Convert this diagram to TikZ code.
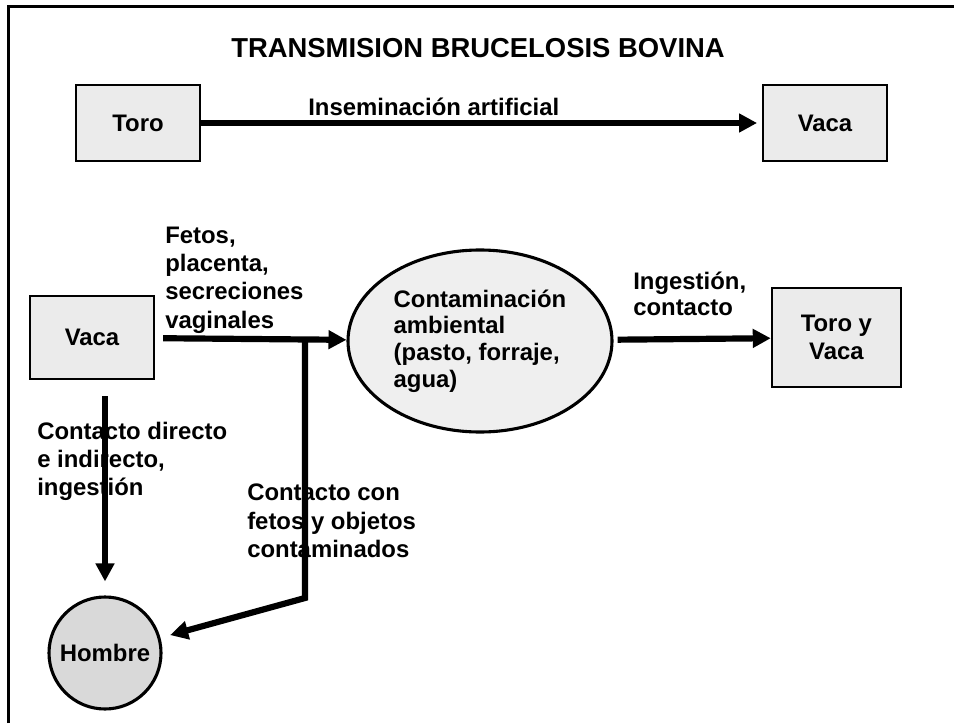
\documentclass[tikz,border=0pt]{standalone}
\usepackage{fontspec}
\setmainfont{Liberation Sans}
\usetikzlibrary{arrows.meta, shapes.geometric}
\definecolor{cajagris}{HTML}{EBEBEB}
\definecolor{nubegris}{HTML}{EFEFEF}
\definecolor{hombregris}{HTML}{D9D9D9}

\begin{document}
\begin{tikzpicture}[
        texto/.style={font=\bfseries\fontsize{17}{20}\selectfont},
        caja/.style={texto, draw, line width=1.6pt, fill=cajagris, minimum width=3.1cm, minimum height=1.9cm, align=center},
        etiqueta/.style={texto, inner sep=0pt, align=left, anchor=north west},
        flecha/.style={line width=4.4pt, -{Triangle[length=0.45cm, width=0.45cm]}}
    ]
            \useasboundingbox (0, 0) rectangle (23.85, -18.075);
            \draw[line width=2.1pt] (0.21, -18.075) -- (0.21, -0.16) -- (23.85, -0.16);
            \node[font=\bfseries\fontsize{19.5}{22}\selectfont] (titulo) at (11.95, -1.2) {TRANSMISION BRUCELOSIS BOVINA};

            \node[caja] (toro) at (3.45, -3.075) {Toro};
            \node[caja] (vacaA) at (20.625, -3.075) {Vaca};
            \node[caja, minimum height=2.075cm] (vaca) at (2.3, -8.44) {Vaca};
            \node[draw, ellipse, line width=2.2pt, fill=nubegris, minimum width=6.6cm, minimum height=4.55cm, inner sep=0pt, align=left, font=\bfseries\fontsize{17}{19}\selectfont] (amb) at (12, -8.525) {Contaminación\\ambiental\\(pasto, forraje,\\agua)};
            \node[caja, minimum width=3.225cm, minimum height=2.475cm] (tyv) at (20.91, -8.44) {Toro y\\Vaca};
            \node[texto, draw, circle, line width=2.2pt, fill=hombregris, minimum size=2.8cm, inner sep=0pt] (hombre) at (2.625, -16.325) {Hombre};

            \node[etiqueta] (insem) at (7.7, -2.45) {Inseminación artificial};
            \node[etiqueta] (fetos) at (4.125, -5.675) {Fetos,\\placenta,\\secreciones\\vaginales};
            \node[etiqueta, font=\bfseries\fontsize{17}{18.5}\selectfont] (ingest) at (15.825, -6.8) {Ingestión,\\contacto};
            \node[etiqueta] (directo) at (0.925, -10.55) {Contacto directo\\e indirecto,\\ingestión};
            \node[etiqueta] (objetos) at (6.175, -12.1) {Contacto con\\fetos y objetos\\contaminados};

            \coordinate (codo) at (7.625, -14.95);
            \draw[flecha, shorten >=0.12cm] (toro) -- (vacaA);
            \draw[flecha, shorten <=0.2cm] (vaca) -- (amb);
            \draw[flecha, shorten <=0.1cm] (amb) -- (tyv);
            \draw[flecha, shorten <=0.4cm, shorten >=0.35cm] (hombre |- vaca.south) -- (hombre);
            \draw[flecha, shorten >=0.25cm] (codo |- vaca.east) -- (codo) -- (hombre);
        \end{tikzpicture}
\end{document}
